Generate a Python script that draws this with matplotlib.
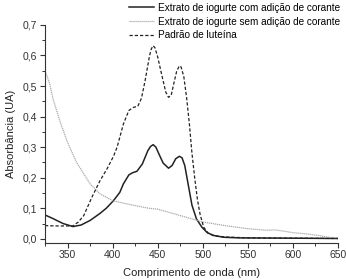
import matplotlib
matplotlib.use("Agg")
import matplotlib.pyplot as plt
from matplotlib.ticker import MultipleLocator, FuncFormatter

plt.rcParams["font.family"] = ["Liberation Sans", "DejaVu Sans"]

# comprimento de onda (nm) e absorbancia (UA)
wl_com = [325, 334, 345, 356, 365, 375, 386, 393, 401, 408, 412, 418, 422, 427, 433, 439,
          442, 445, 448, 451, 456, 462, 466, 470, 474, 477, 480, 484, 488, 493, 499, 505,
          512, 523, 540, 600, 650]
com = [0.078, 0.066, 0.050, 0.040, 0.045, 0.060, 0.083, 0.100, 0.125, 0.152, 0.180, 0.209,
       0.216, 0.221, 0.245, 0.288, 0.302, 0.308, 0.300, 0.280, 0.248, 0.231, 0.240, 0.262,
       0.270, 0.265, 0.240, 0.175, 0.110, 0.065, 0.038, 0.020, 0.011, 0.005, 0.003, 0.002,
       0.001]

wl_sem = [325, 330, 334, 342, 350, 360, 375, 386, 400, 416, 440, 450, 475, 500, 525, 550,
          570, 580, 590, 600, 615, 630, 640, 650]
sem = [0.55, 0.51, 0.457, 0.381, 0.316, 0.25, 0.18, 0.147, 0.125, 0.114, 0.10, 0.097, 0.076,
       0.055, 0.043, 0.033, 0.028, 0.029, 0.025, 0.020, 0.016, 0.010, 0.005, 0.003]

wl_lut = [325, 340, 356, 362, 368, 377, 386, 394, 401, 405, 412, 418, 423, 428, 432, 436,
          441, 443, 445, 447, 450, 455, 459, 462, 465, 468, 471, 474, 476, 479, 482, 485,
          488, 491, 494, 497, 501, 506, 512, 525, 550, 600, 650]
lut = [0.043, 0.042, 0.042, 0.055, 0.076, 0.136, 0.19, 0.23, 0.27, 0.30, 0.376, 0.42, 0.43,
       0.434, 0.46, 0.517, 0.60, 0.622, 0.632, 0.625, 0.595, 0.53, 0.48, 0.463, 0.47, 0.51,
       0.548, 0.566, 0.562, 0.53, 0.463, 0.38, 0.28, 0.20, 0.13, 0.08, 0.038, 0.018, 0.01,
       0.006, 0.003, 0.002, 0.001]

fig = plt.figure(figsize=(3.46, 2.80), dpi=100)
ax = fig.add_axes([0.130, 0.133, 0.847, 0.778])

ax.plot(wl_com, com, color="#222222", linewidth=1.1,
        label="Extrato de iogurte com adição de corante")
ax.plot(wl_sem, sem, color="#aaaaaa", linewidth=0.9, linestyle=(0, (1, 0.6)),
        label="Extrato de iogurte sem adição de corante")
ax.plot(wl_lut, lut, color="#222222", linewidth=0.9, linestyle=(0, (2.6, 1.6)),
        label="Padrão de luteína")

ax.set_xlim(325, 650)
ax.set_ylim(-0.013, 0.7)
ax.xaxis.set_major_locator(MultipleLocator(50))
ax.xaxis.set_minor_locator(MultipleLocator(25))
ax.yaxis.set_major_locator(MultipleLocator(0.1))
ax.yaxis.set_minor_locator(MultipleLocator(0.05))
ax.yaxis.set_major_formatter(FuncFormatter(lambda v, p: f"{v:.1f}".replace(".", ",")))

for s in ["top", "right"]:
    ax.spines[s].set_visible(False)
for s in ["left", "bottom"]:
    ax.spines[s].set_linewidth(0.8)
    ax.spines[s].set_color("#333333")
ax.tick_params(which="major", direction="out", length=3.5, width=0.8, labelsize=7.5,
               colors="#333333", pad=2)
ax.tick_params(which="minor", direction="out", length=2, width=0.7, colors="#333333")

ax.set_xlabel("Comprimento de onda (nm)", fontsize=8, color="#222222", labelpad=5.5)
ax.set_ylabel("Absorbância (UA)", fontsize=8, color="#222222", labelpad=5)

fig.legend(loc="upper left", bbox_to_anchor=(0.36, 1.004), frameon=False, fontsize=7.2,
           handlelength=2.5, handletextpad=0.45, labelspacing=0.38, borderaxespad=0)

fig.savefig("out.png", dpi=100)
